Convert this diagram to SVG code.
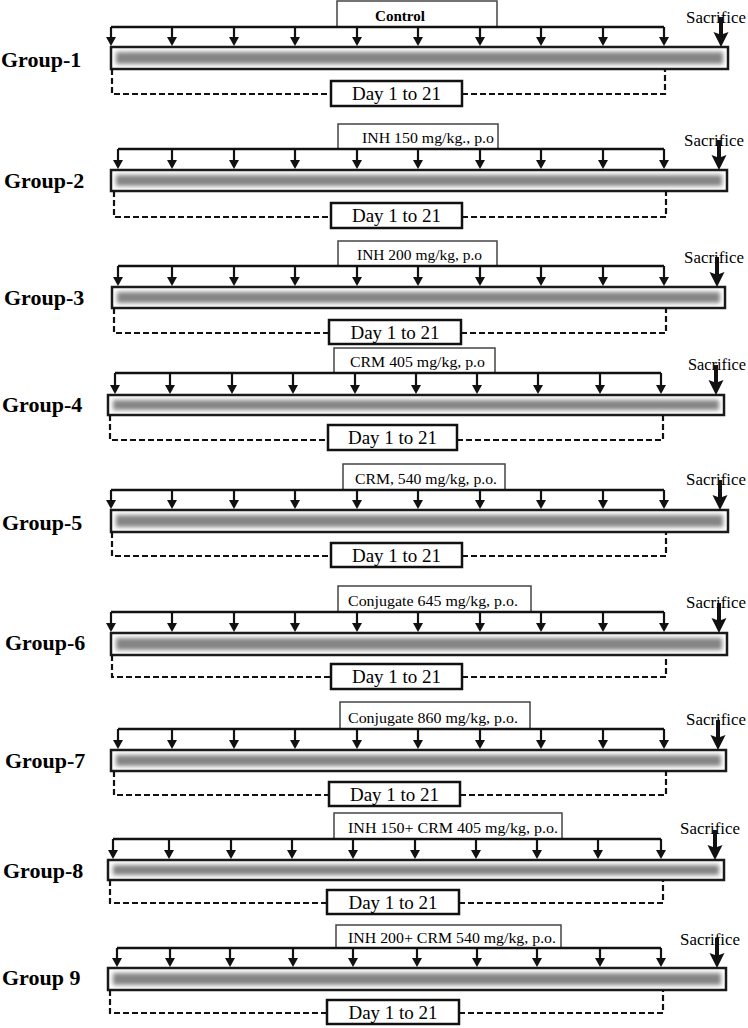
<svg xmlns="http://www.w3.org/2000/svg" width="748" height="1028" viewBox="0 0 748 1028">
<style>
.hl{stroke:#111;stroke-width:2.5;fill:none}
.a{stroke:#111;stroke-width:2.2}
.lb{fill:#fff;stroke:#444;stroke-width:1.5}
.bo{fill:#fff;stroke:#1a1a1a;stroke-width:2.5}
.bi{fill:#858585;filter:url(#bl)}
.db{fill:#fff;stroke:#111;stroke-width:2.5}
.ds{stroke:#111;stroke-width:2.2;fill:none;stroke-dasharray:6 3}
.gl{font-family:"Liberation Serif",serif;font-weight:bold;font-size:22px;fill:#000}
.sc{font-family:"Liberation Serif",serif;font-size:17px;fill:#000}
.tx{font-family:"Liberation Serif",serif;font-size:15px;fill:#000}
.dy{font-family:"Liberation Serif",serif;font-size:19px;fill:#000;text-anchor:middle}
.sa{fill:#111}
</style>
<defs>
<filter id="bl" x="-5%" y="-60%" width="110%" height="220%"><feGaussianBlur stdDeviation="2"/></filter>
<marker id="ah" markerUnits="userSpaceOnUse" viewBox="0 0 9 10" markerWidth="9" markerHeight="10" refX="0" refY="5" orient="auto"><path d="M0,0 L9,5 L0,10 z" fill="#111"/></marker>
<path id="sac" d="M-2,0 H2 V17 L7.5,15 L0,30 L-7.5,15 L-2,17 z"/>
</defs>

<!-- Group 1 -->
<g id="group1">
<text class="gl" x="1" y="67">Group-1</text>
<rect class="lb" x="337" y="1" width="160" height="26"/>
<text class="tx" x="375" y="21" font-weight="bold" textLength="50" lengthAdjust="spacingAndGlyphs">Control</text>
<rect class="bo" x="111" y="47" width="617" height="22"/>
<rect class="bi" x="116" y="52" width="607" height="12"/>
<rect class="db" x="331" y="81" width="131" height="25"/>
<text class="dy" x="396.5" y="100">Day 1 to 21</text>
<text class="sc" x="686" y="23" textLength="60" lengthAdjust="spacingAndGlyphs">Sacrifice</text>
</g>
<!-- Group 2 -->
<g id="group2">
<text class="gl" x="4" y="188">Group-2</text>
<rect class="lb" x="338" y="124" width="160" height="25"/>
<text class="tx" x="362" y="143" textLength="132" lengthAdjust="spacingAndGlyphs">INH 150 mg/kg., p.o</text>
<rect class="bo" x="111" y="170" width="616" height="21"/>
<rect class="bi" x="116" y="175" width="606" height="11"/>
<rect class="db" x="331" y="203" width="131" height="25"/>
<text class="dy" x="396.5" y="222">Day 1 to 21</text>
<text class="sc" x="684" y="146" textLength="60" lengthAdjust="spacingAndGlyphs">Sacrifice</text>
</g>
<!-- Group 3 -->
<g id="group3">
<text class="gl" x="4" y="305">Group-3</text>
<rect class="lb" x="338" y="241" width="159" height="25"/>
<text class="tx" x="357" y="260" textLength="125" lengthAdjust="spacingAndGlyphs">INH 200 mg/kg, p.o</text>
<rect class="bo" x="112" y="287" width="613" height="21"/>
<rect class="bi" x="117" y="292" width="603" height="11"/>
<rect class="db" x="329" y="320" width="132" height="24"/>
<text class="dy" x="395" y="339">Day 1 to 21</text>
<text class="sc" x="684" y="263" textLength="60" lengthAdjust="spacingAndGlyphs">Sacrifice</text>
</g>
<!-- Group 4 -->
<g id="group4">
<text class="gl" x="2" y="412">Group-4</text>
<rect class="lb" x="334" y="348" width="161" height="25"/>
<text class="tx" x="350" y="367" textLength="135" lengthAdjust="spacingAndGlyphs">CRM 405 mg/kg, p.o</text>
<rect class="bo" x="108" y="395" width="616" height="20"/>
<rect class="bi" x="113" y="400" width="606" height="10"/>
<rect class="db" x="328" y="425" width="129" height="25"/>
<text class="dy" x="392.5" y="444">Day 1 to 21</text>
<text class="sc" x="688" y="370" textLength="58" lengthAdjust="spacingAndGlyphs">Sacrifice</text>
</g>
<!-- Group 5 -->
<g id="group5">
<text class="gl" x="2" y="530">Group-5</text>
<rect class="lb" x="343" y="464" width="162" height="26"/>
<text class="tx" x="355" y="484" textLength="142" lengthAdjust="spacingAndGlyphs">CRM, 540 mg/kg, p.o.</text>
<rect class="bo" x="111" y="510" width="617" height="22"/>
<rect class="bi" x="116" y="515" width="607" height="12"/>
<rect class="db" x="331" y="543" width="131" height="24"/>
<text class="dy" x="396.5" y="562">Day 1 to 21</text>
<text class="sc" x="686" y="485" textLength="60" lengthAdjust="spacingAndGlyphs">Sacrifice</text>
</g>
<!-- Group 6 -->
<g id="group6">
<text class="gl" x="5" y="650">Group-6</text>
<rect class="lb" x="338" y="586" width="193" height="26"/>
<text class="tx" x="348" y="606" textLength="170" lengthAdjust="spacingAndGlyphs">Conjugate 645 mg/kg, p.o.</text>
<rect class="bo" x="111" y="633" width="616" height="22"/>
<rect class="bi" x="116" y="638" width="606" height="12"/>
<rect class="db" x="331" y="664" width="131" height="25"/>
<text class="dy" x="396.5" y="683">Day 1 to 21</text>
<text class="sc" x="686" y="608" textLength="60" lengthAdjust="spacingAndGlyphs">Sacrifice</text>
</g>
<!-- Group 7 -->
<g id="group7">
<text class="gl" x="5" y="768">Group-7</text>
<rect class="lb" x="340" y="702" width="190" height="27"/>
<text class="tx" x="348" y="723" textLength="170" lengthAdjust="spacingAndGlyphs">Conjugate 860 mg/kg, p.o.</text>
<rect class="bo" x="111" y="750" width="615" height="21"/>
<rect class="bi" x="116" y="755" width="605" height="11"/>
<rect class="db" x="329" y="782" width="131" height="24"/>
<text class="dy" x="394.5" y="801">Day 1 to 21</text>
<text class="sc" x="686" y="725" textLength="60" lengthAdjust="spacingAndGlyphs">Sacrifice</text>
</g>
<!-- Group 8 -->
<g id="group8">
<text class="gl" x="3" y="878">Group-8</text>
<rect class="lb" x="334" y="813" width="228" height="26"/>
<text class="tx" x="348" y="833" textLength="210" lengthAdjust="spacingAndGlyphs">INH 150+ CRM 405 mg/kg, p.o.</text>
<rect class="bo" x="108" y="860" width="616" height="20"/>
<rect class="bi" x="113" y="865" width="606" height="10"/>
<rect class="db" x="327" y="890" width="132" height="24"/>
<text class="dy" x="393" y="909">Day 1 to 21</text>
<text class="sc" x="680" y="834" textLength="60" lengthAdjust="spacingAndGlyphs">Sacrifice</text>
</g>
<!-- Group 9 -->
<g id="group9">
<text class="gl" x="2" y="985">Group 9</text>
<rect class="lb" x="336" y="925" width="225" height="23"/>
<text class="tx" x="348" y="943" textLength="208" lengthAdjust="spacingAndGlyphs">INH 200+ CRM 540 mg/kg, p.o.</text>
<rect class="bo" x="108" y="968" width="618" height="22"/>
<rect class="bi" x="113" y="973" width="608" height="12"/>
<rect class="db" x="327" y="1000" width="132" height="24"/>
<text class="dy" x="393" y="1019">Day 1 to 21</text>
<text class="sc" x="680" y="945" textLength="60" lengthAdjust="spacingAndGlyphs">Sacrifice</text>
</g>

<g id="connectors">
<!-- G1 -->
<path class="hl" d="M111,27 H664"/>
<g class="a" marker-end="url(#ah)">
<line x1="111" y1="27" x2="111" y2="37"/><line x1="172" y1="27" x2="172" y2="37"/><line x1="234" y1="27" x2="234" y2="37"/><line x1="295" y1="27" x2="295" y2="37"/><line x1="357" y1="27" x2="357" y2="37"/><line x1="418" y1="27" x2="418" y2="37"/><line x1="480" y1="27" x2="480" y2="37"/><line x1="541" y1="27" x2="541" y2="37"/><line x1="603" y1="27" x2="603" y2="37"/><line x1="664" y1="27" x2="664" y2="37"/>
</g>
<use class="sa" href="#sac" x="721" y="17"/>
<path class="ds" d="M112,69 V94 H331 M462,94 H665 V69"/>
<!-- G2 -->
<path class="hl" d="M118,149 H664"/>
<g class="a" marker-end="url(#ah)">
<line x1="118" y1="149" x2="118" y2="160"/><line x1="172" y1="149" x2="172" y2="160"/><line x1="234" y1="149" x2="234" y2="160"/><line x1="295" y1="149" x2="295" y2="160"/><line x1="357" y1="149" x2="357" y2="160"/><line x1="418" y1="149" x2="418" y2="160"/><line x1="480" y1="149" x2="480" y2="160"/><line x1="541" y1="149" x2="541" y2="160"/><line x1="603" y1="149" x2="603" y2="160"/><line x1="664" y1="149" x2="664" y2="160"/>
</g>
<use class="sa" href="#sac" x="719" y="140"/>
<path class="ds" d="M114,191 V217 H331 M462,217 H666 V191"/>
<!-- G3 -->
<path class="hl" d="M118,266 H664"/>
<g class="a" marker-end="url(#ah)">
<line x1="118" y1="266" x2="118" y2="277"/><line x1="172" y1="266" x2="172" y2="277"/><line x1="234" y1="266" x2="234" y2="277"/><line x1="295" y1="266" x2="295" y2="277"/><line x1="357" y1="266" x2="357" y2="277"/><line x1="418" y1="266" x2="418" y2="277"/><line x1="480" y1="266" x2="480" y2="277"/><line x1="541" y1="266" x2="541" y2="277"/><line x1="603" y1="266" x2="603" y2="277"/><line x1="664" y1="266" x2="664" y2="277"/>
</g>
<use class="sa" href="#sac" x="717" y="257"/>
<path class="ds" d="M114,308 V333 H329 M461,333 H666 V308"/>
<!-- G4 -->
<path class="hl" d="M115,373 H661"/>
<g class="a" marker-end="url(#ah)">
<line x1="115" y1="373" x2="115" y2="385"/><line x1="170" y1="373" x2="170" y2="385"/><line x1="232" y1="373" x2="232" y2="385"/><line x1="293" y1="373" x2="293" y2="385"/><line x1="355" y1="373" x2="355" y2="385"/><line x1="416" y1="373" x2="416" y2="385"/><line x1="477" y1="373" x2="477" y2="385"/><line x1="538" y1="373" x2="538" y2="385"/><line x1="600" y1="373" x2="600" y2="385"/><line x1="661" y1="373" x2="661" y2="385"/>
</g>
<use class="sa" href="#sac" x="716" y="365"/>
<path class="ds" d="M110,415 V440 H328 M457,440 H663 V415"/>
<!-- G5 -->
<path class="hl" d="M111,490 H664"/>
<g class="a" marker-end="url(#ah)">
<line x1="111" y1="490" x2="111" y2="500"/><line x1="172" y1="490" x2="172" y2="500"/><line x1="234" y1="490" x2="234" y2="500"/><line x1="295" y1="490" x2="295" y2="500"/><line x1="357" y1="490" x2="357" y2="500"/><line x1="418" y1="490" x2="418" y2="500"/><line x1="480" y1="490" x2="480" y2="500"/><line x1="541" y1="490" x2="541" y2="500"/><line x1="603" y1="490" x2="603" y2="500"/><line x1="664" y1="490" x2="664" y2="500"/>
</g>
<use class="sa" href="#sac" x="720" y="480"/>
<path class="ds" d="M112,532 V556 H331 M462,556 H666 V532"/>
<!-- G6 -->
<path class="hl" d="M111,612 H664"/>
<g class="a" marker-end="url(#ah)">
<line x1="111" y1="612" x2="111" y2="623"/><line x1="172" y1="612" x2="172" y2="623"/><line x1="234" y1="612" x2="234" y2="623"/><line x1="295" y1="612" x2="295" y2="623"/><line x1="357" y1="612" x2="357" y2="623"/><line x1="418" y1="612" x2="418" y2="623"/><line x1="480" y1="612" x2="480" y2="623"/><line x1="541" y1="612" x2="541" y2="623"/><line x1="603" y1="612" x2="603" y2="623"/><line x1="664" y1="612" x2="664" y2="623"/>
</g>
<use class="sa" href="#sac" x="719" y="603"/>
<path class="ds" d="M112,655 V677 H331 M462,677 H666 V655"/>
<!-- G7 -->
<path class="hl" d="M118,729 H664"/>
<g class="a" marker-end="url(#ah)">
<line x1="118" y1="729" x2="118" y2="740"/><line x1="172" y1="729" x2="172" y2="740"/><line x1="234" y1="729" x2="234" y2="740"/><line x1="295" y1="729" x2="295" y2="740"/><line x1="357" y1="729" x2="357" y2="740"/><line x1="418" y1="729" x2="418" y2="740"/><line x1="480" y1="729" x2="480" y2="740"/><line x1="541" y1="729" x2="541" y2="740"/><line x1="603" y1="729" x2="603" y2="740"/><line x1="664" y1="729" x2="664" y2="740"/>
</g>
<use class="sa" href="#sac" x="718" y="720"/>
<path class="ds" d="M114,771 V795 H329 M460,795 H666 V771"/>
<!-- G8 -->
<path class="hl" d="M113,839 H661"/>
<g class="a" marker-end="url(#ah)">
<line x1="113" y1="839" x2="113" y2="850"/><line x1="169" y1="839" x2="169" y2="850"/><line x1="231" y1="839" x2="231" y2="850"/><line x1="292" y1="839" x2="292" y2="850"/><line x1="353" y1="839" x2="353" y2="850"/><line x1="415" y1="839" x2="415" y2="850"/><line x1="476" y1="839" x2="476" y2="850"/><line x1="537" y1="839" x2="537" y2="850"/><line x1="598" y1="839" x2="598" y2="850"/><line x1="661" y1="839" x2="661" y2="850"/>
</g>
<use class="sa" href="#sac" x="715" y="830"/>
<path class="ds" d="M110,880 V903 H327 M459,903 H663 V880"/>
<!-- G9 -->
<path class="hl" d="M117,948 H661"/>
<g class="a" marker-end="url(#ah)">
<line x1="117" y1="948" x2="117" y2="958"/><line x1="170" y1="948" x2="170" y2="958"/><line x1="230" y1="948" x2="230" y2="958"/><line x1="293" y1="948" x2="293" y2="958"/><line x1="353" y1="948" x2="353" y2="958"/><line x1="417" y1="948" x2="417" y2="958"/><line x1="477" y1="948" x2="477" y2="958"/><line x1="537" y1="948" x2="537" y2="958"/><line x1="600" y1="948" x2="600" y2="958"/><line x1="661" y1="948" x2="661" y2="958"/>
</g>
<use class="sa" href="#sac" x="717" y="938"/>
<path class="ds" d="M110,990 V1013 H327 M459,1013 H663 V990"/>
</g>
</svg>
